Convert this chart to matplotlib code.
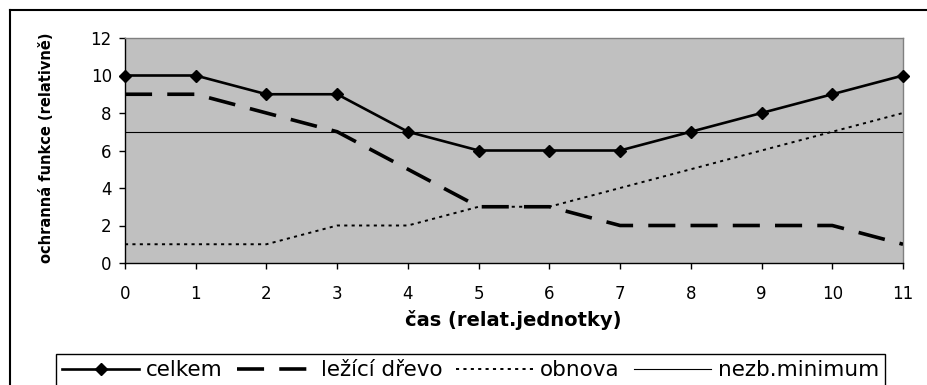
import matplotlib
matplotlib.use("Agg")
import matplotlib.pyplot as plt
from matplotlib.lines import Line2D

## Data :
cas = [0, 1, 2, 3, 4, 5, 6, 7, 8, 9, 10, 11]
celkem = [10, 10, 9, 9, 7, 6, 6, 6, 7, 8, 9, 10]
lezici_drevo = [9, 9, 8, 7, 5, 3, 3, 2, 2, 2, 2, 1]
obnova = [1, 1, 1, 2, 2, 3, 3, 4, 5, 6, 7, 8]
nezb_minimum = [7] * 12

y_ticks = [0, 2, 4, 6, 8, 10, 12]
series_names = ["celkem", "ležící dřevo", "obnova", "nezb.minimum"]

## Figure Setup :
W, H = 927, 385
fig = plt.figure(figsize=(W / 100, H / 100), dpi=100)
plt.rcParams['font.family'] = ['DejaVu Sans']

# plot area in pixels: x 125..903, y 38..263
ax = fig.add_axes([125 / W, 1 - 263 / H, (903 - 125) / W, (263 - 38) / H])
ax.set_facecolor('#c0c0c0')

ax.plot(cas, nezb_minimum, color='black', lw=0.8, zorder=2, label=series_names[3])
ax.plot(cas, obnova, color='black', lw=1.4, linestyle=(0, (1.6, 2.2)), zorder=3,
        label=series_names[2])
ax.plot(cas, lezici_drevo, color='black', lw=2.6, linestyle=(0, (7.5, 4.2)), zorder=4,
        label=series_names[1])
ax.plot(cas, celkem, color='black', lw=1.9, marker='D', markersize=6, zorder=5,
        clip_on=False, label=series_names[0])

ax.set_xlim(0, 11)
ax.set_ylim(0, 12)
ax.set_xticks(cas)
ax.set_yticks(y_ticks)

for s in ['top', 'right']:
    ax.spines[s].set_color('#808080')
    ax.spines[s].set_linewidth(1)
for s in ['left', 'bottom']:
    ax.spines[s].set_color('black')
    ax.spines[s].set_linewidth(1)

ax.tick_params(axis='both', direction='out', length=4.5, width=1, color='black',
               labelsize=12)
ax.tick_params(axis='x', pad=11)
ax.tick_params(axis='y', pad=5)

# axis titles
fig.text(47 / W, 1 - 148 / H, "ochranná funkce (relativně)", rotation=90,
         ha='center', va='center', fontsize=10.5, fontweight='bold')
fig.text(513 / W, 1 - 320 / H, "čas (relat.jednotky)", ha='center', va='center',
         fontsize=14, fontweight='bold')

# legend
h, l = ax.get_legend_handles_labels()
order = [3, 2, 1, 0]
leg = fig.legend([h[i] for i in order], [l[i] for i in order],
                 loc='upper center', bbox_to_anchor=(470.5 / W, 1 - 354 / H),
                 ncol=4, fontsize=15.5, frameon=True, fancybox=False,
                 edgecolor='black', framealpha=1, handlelength=3.6,
                 handletextpad=0.3, columnspacing=0.65, borderpad=0.3,
                 borderaxespad=0, numpoints=1)
leg.get_frame().set_linewidth(1)

# outer chart border (cropped at right and bottom)
fig.add_artist(Line2D([9.5 / W, 9.5 / W], [0, 1 - 9.5 / H], transform=fig.transFigure,
                      color='black', lw=1.5))
fig.add_artist(Line2D([9.5 / W, 1], [1 - 9.5 / H, 1 - 9.5 / H], transform=fig.transFigure,
                      color='black', lw=1.5))

fig.savefig("out.png", dpi=100)
